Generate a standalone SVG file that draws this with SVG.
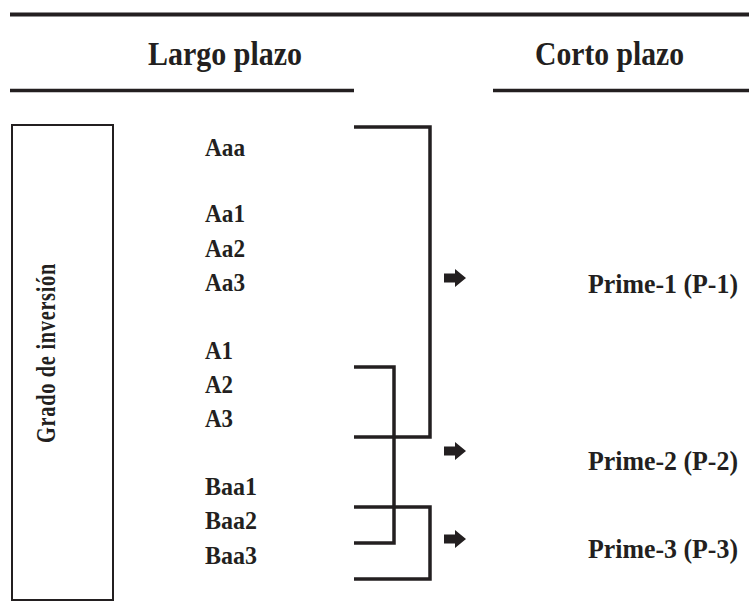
<svg xmlns="http://www.w3.org/2000/svg" width="749" height="609" viewBox="0 0 749 609">
<style>
text{font-family:"Liberation Serif","Times New Roman",serif;font-weight:bold;fill:#231f20}
.h{font-size:33px}
.l{font-size:26px}
.v{font-size:28px;letter-spacing:1px}
.p{font-size:28px}
.rule{stroke:#231f20;fill:none}
.br{stroke:#231f20;stroke-width:3.5;fill:none;stroke-linejoin:miter;stroke-linecap:butt}
.ar{fill:#231f20}
</style>
<defs>
<path id="arrow" d="M0,-4.5 H11 V-9 L22,0 L11,9 V4.5 H0 Z"/>
</defs>
<rect width="749" height="609" fill="#fff"/>
<g id="header">
<line class="rule" x1="10" y1="14.5" x2="749" y2="14.5" stroke-width="4"/>
<line class="rule" x1="10" y1="90.5" x2="354" y2="90.5" stroke-width="3.5"/>
<line class="rule" x1="493" y1="90.5" x2="749" y2="90.5" stroke-width="3.5"/>
<text class="h" x="148" y="65" textLength="154" lengthAdjust="spacingAndGlyphs">Largo plazo</text>
<text class="h" x="535" y="65" textLength="149" lengthAdjust="spacingAndGlyphs">Corto plazo</text>
</g>
<g id="grado">
<rect x="12" y="125" width="101" height="475" fill="none" stroke="#231f20" stroke-width="2"/>
<text class="v" transform="translate(55,443) rotate(-90)" x="0" y="0" textLength="180" lengthAdjust="spacingAndGlyphs">Grado de inversión</text>
</g>
<g id="ratings">
<text class="l" x="205" y="156" textLength="40" lengthAdjust="spacingAndGlyphs">Aaa</text>
<text class="l" x="205" y="222" textLength="40" lengthAdjust="spacingAndGlyphs">Aa1</text>
<text class="l" x="205" y="257" textLength="40" lengthAdjust="spacingAndGlyphs">Aa2</text>
<text class="l" x="205" y="291" textLength="40" lengthAdjust="spacingAndGlyphs">Aa3</text>
<text class="l" x="205" y="359" textLength="28" lengthAdjust="spacingAndGlyphs">A1</text>
<text class="l" x="205" y="393" textLength="28" lengthAdjust="spacingAndGlyphs">A2</text>
<text class="l" x="205" y="427" textLength="28" lengthAdjust="spacingAndGlyphs">A3</text>
<text class="l" x="205" y="495" textLength="52" lengthAdjust="spacingAndGlyphs">Baa1</text>
<text class="l" x="205" y="529" textLength="52" lengthAdjust="spacingAndGlyphs">Baa2</text>
<text class="l" x="205" y="564" textLength="52" lengthAdjust="spacingAndGlyphs">Baa3</text>
</g>
<g id="connectors">
<path class="br" d="M354,127 H430 V437 H354"/>
<path class="br" d="M354,367 H394 V543 H354"/>
<path class="br" d="M354,507 H430 V579 H354"/>
<use href="#arrow" class="ar" x="444" y="278"/>
<use href="#arrow" class="ar" x="444" y="451"/>
<use href="#arrow" class="ar" x="444" y="539"/>
</g>
<g id="p1"><text class="p" x="588" y="293" textLength="150" lengthAdjust="spacingAndGlyphs">Prime-1 (P-1)</text></g>
<g id="p2"><text class="p" x="588" y="470" textLength="150" lengthAdjust="spacingAndGlyphs">Prime-2 (P-2)</text></g>
<g id="p3"><text class="p" x="588" y="558" textLength="150" lengthAdjust="spacingAndGlyphs">Prime-3 (P-3)</text></g>
</svg>
